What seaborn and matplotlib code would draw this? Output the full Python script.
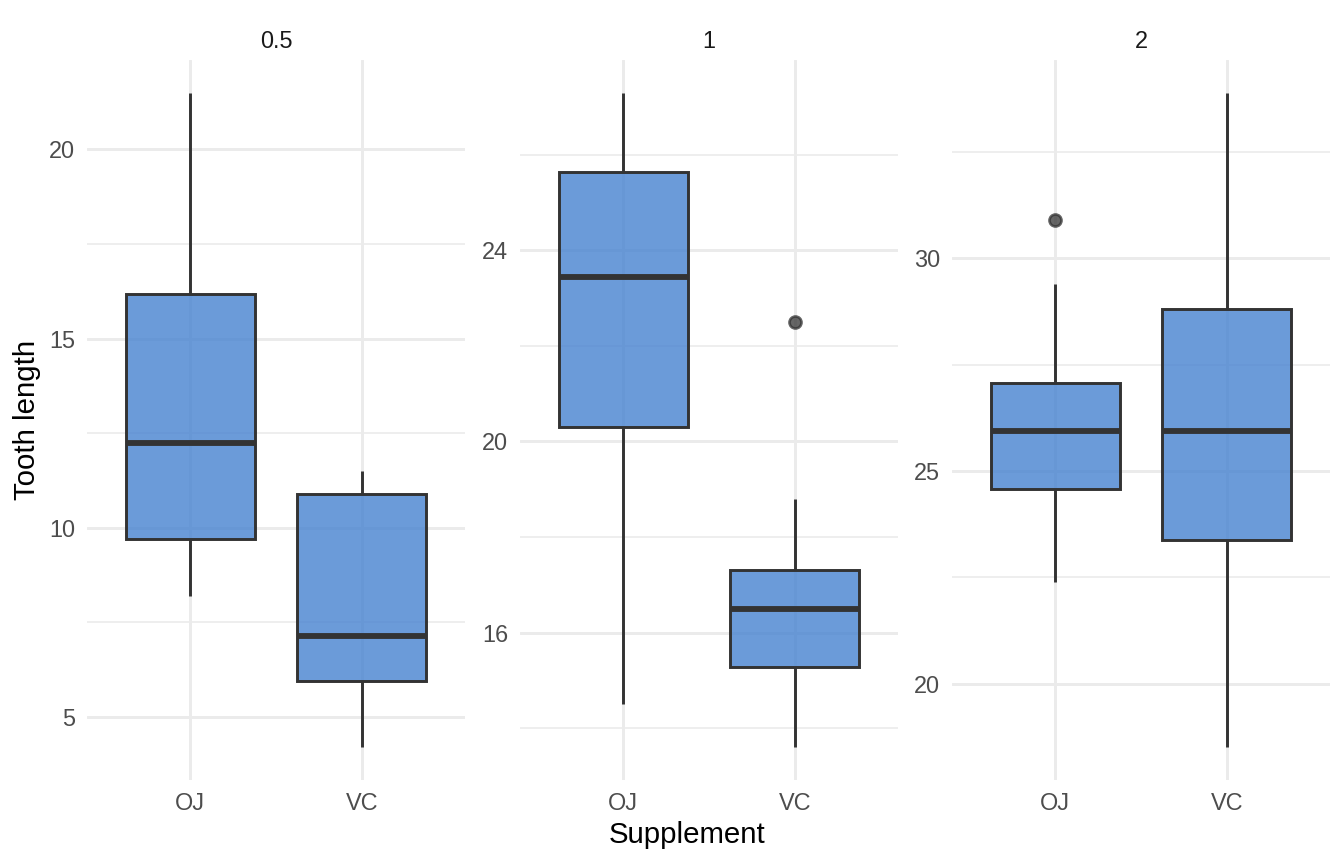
import pandas as pd
import seaborn as sns
import matplotlib
import matplotlib.pyplot as plt
from matplotlib.ticker import FixedLocator

matplotlib.use('agg')

# ToothGrowth values, per dose and supplement
doses = ["0.5", "1", "2"]
supps = ["OJ", "VC"]
oj_05 = [15.2, 21.5, 17.6, 9.7, 14.5, 10.0, 8.2, 9.4, 16.5, 9.7]
vc_05 = [4.2, 11.5, 7.3, 5.8, 6.4, 10.0, 11.2, 11.2, 5.2, 7.0]
oj_1 = [19.7, 23.3, 23.6, 26.4, 20.0, 25.2, 25.8, 21.2, 14.5, 27.3]
vc_1 = [16.5, 16.5, 15.2, 17.3, 22.5, 17.3, 13.6, 14.5, 18.8, 15.5]
oj_2 = [25.5, 26.4, 22.4, 24.5, 24.8, 30.9, 26.4, 27.3, 29.4, 23.0]
vc_2 = [23.6, 18.5, 33.9, 25.5, 26.4, 32.5, 26.7, 21.5, 23.3, 29.5]

major_ticks = {"0.5": [5, 10, 15, 20], "1": [16, 20, 24], "2": [20, 25, 30]}
minor_ticks = {"0.5": [7.5, 12.5, 17.5], "1": [14, 18, 22, 26], "2": [22.5, 27.5, 32.5]}

groups = {"0.5": (oj_05, vc_05), "1": (oj_1, vc_1), "2": (oj_2, vc_2)}
rows = []
for d in doses:
    for s, vals in zip(supps, groups[d]):
        for v in vals:
            rows.append({"dose": d, "supp": s, "len": v})
df = pd.DataFrame(rows)

sns.set_theme(style="white")
plt.rcParams['font.family'] = ['Liberation Sans', 'DejaVu Sans']

fig = plt.figure(figsize=(7, 4.5), dpi=192)
fill = (0.275, 0.51, 0.816, 0.8)
grid_col = '#ebebeb'

# panel placement (fractions of figure)
lefts = [87 / 1344, 520 / 1344, 952 / 1344]
w = 378 / 1344
bottom = 1 - 780 / 864
h = 720 / 864

for left, d in zip(lefts, doses):
    ax = fig.add_axes([left, bottom, w, h])
    sub = df[df["dose"] == d]
    sns.boxplot(data=sub, x="supp", y="len", order=supps, ax=ax, width=0.75,
                color=fill[:3], linecolor='#333333', linewidth=1.1,
                showcaps=False,
                medianprops=dict(linewidth=2.2, color='#333333'),
                flierprops=dict(marker='o', markersize=4.5, markerfacecolor='#333333',
                                markeredgecolor='#333333', alpha=0.75))
    for p in ax.patches:
        p.set_facecolor(fill)
    lo, hi = sub["len"].min(), sub["len"].max()
    pad = (hi - lo) * 0.05
    ax.set_ylim(lo - pad, hi + pad)
    ax.set_xlim(-0.6, 1.6)
    ax.yaxis.set_major_locator(FixedLocator(major_ticks[d]))
    ax.yaxis.set_minor_locator(FixedLocator(minor_ticks[d]))
    ax.grid(True, which='major', axis='both', color=grid_col, linewidth=1.1, zorder=0)
    ax.grid(True, which='minor', axis='y', color=grid_col, linewidth=0.6, zorder=0)
    ax.set_axisbelow(True)
    for sp in ax.spines.values():
        sp.set_visible(False)
    ax.tick_params(axis='both', which='both', length=0, labelsize=8.8,
                   labelcolor='#4d4d4d', pad=4.5)
    ax.set_xlabel("")
    ax.set_ylabel("")
    ax.set_title(d, fontsize=8.8, color='#1a1a1a', pad=4.5)

fig.text(687 / 1344, 1 - 835 / 864, "Supplement", ha='center', va='center',
         fontsize=11, color='black')
fig.text(27 / 1344, 0.514, "Tooth length", ha='center', va='center', rotation=90,
         fontsize=11, color='black')

plt.savefig("out.png", dpi=192)
plt.close()
